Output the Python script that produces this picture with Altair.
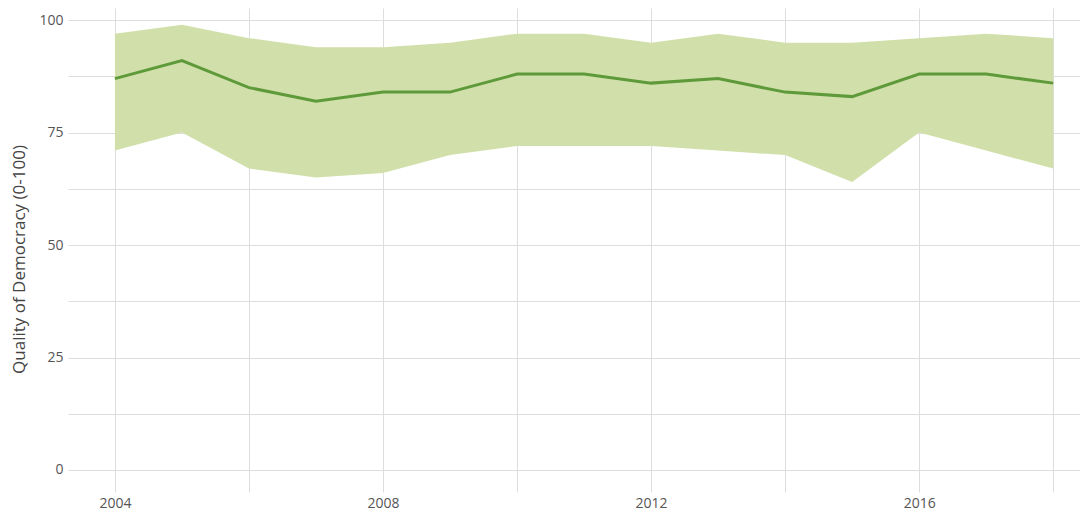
import altair as alt
import pandas as pd

years = list(range(2004, 2019))
median = [87, 91, 85, 82, 84, 84, 88, 88, 86, 87, 84, 83, 88, 88, 86]
upper = [97, 99, 96, 94, 94, 95, 97, 97, 95, 97, 95, 95, 96, 97, 96]
lower = [71, 75, 67, 65, 66, 70, 72, 72, 72, 71, 70, 64, 75, 71, 67]

x_grid = [2004, 2006, 2008, 2010, 2012, 2014, 2016, 2018]
y_grid = [0, 12.5, 25, 37.5, 50, 62.5, 75, 87.5, 100]

df = pd.DataFrame({"year": years, "median": median, "upper": upper, "lower": lower})

FONT = "Open Sans"
x_scale = alt.Scale(domain=[2003.3, 2018.4], nice=False, zero=False)
y_scale = alt.Scale(domain=[-4.9, 102.7], nice=False, zero=False)

x_axis = alt.Axis(
    values=x_grid, title=None, ticks=False, domain=False,
    labelExpr="datum.value % 4 == 0 ? format(datum.value, 'd') : ''",
    labelPadding=4, labelFontSize=14, labelColor="#555555", labelFont=FONT,
    gridColor="#dddddd", gridWidth=1,
)
y_axis = alt.Axis(
    values=y_grid, title="Quality of Democracy (0-100)", ticks=False, domain=False,
    labelExpr="datum.value % 25 == 0 ? format(datum.value, 'd') : ''",
    labelPadding=5, labelFontSize=14, labelColor="#555555", labelFont=FONT,
    titleFont=FONT, titleFontSize=17, titleFontWeight="normal", titleColor="#444444",
    titleX=-49, titleY=251, titleAngle=-90, titleAlign="center", titleBaseline="middle",
    gridColor="#dddddd", gridWidth=1,
)

base = alt.Chart(df)
band = base.mark_area(color="#d1e0aa", opacity=1).encode(
    x=alt.X("year:Q", scale=x_scale, axis=x_axis),
    y=alt.Y("lower:Q", scale=y_scale, axis=y_axis),
    y2="upper:Q",
)
line = base.mark_line(color="#5e9a3a", strokeWidth=3).encode(
    x=alt.X("year:Q", scale=x_scale),
    y=alt.Y("median:Q", scale=y_scale),
)

chart = (band + line).properties(
    width=1012, height=484,
    autosize=alt.AutoSizeParams(type="none"),
    padding={"left": 60, "top": 0, "right": 0, "bottom": 19},
    background="white",
).configure_view(stroke=None)

chart.save("out.html", embed_options={"renderer": "svg", "actions": False})
